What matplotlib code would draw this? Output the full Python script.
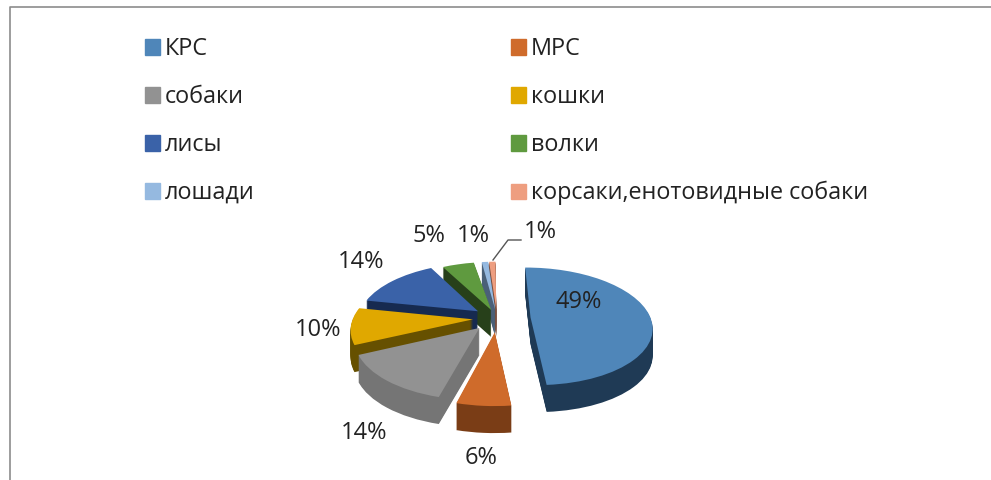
import matplotlib
matplotlib.use('Agg')
import matplotlib.pyplot as plt
from matplotlib.patches import Patch
from matplotlib.transforms import Transform
import numpy as np

plt.rcParams['font.family'] = ['Open Sans', 'DejaVu Sans']

# данные
names = ['КРС', 'МРС', 'собаки', 'кошки', 'лисы', 'волки', 'лошади', 'корсаки,енотовидные собаки']
shares = [49, 6, 14, 10, 14, 5, 1, 1]
labels = ['49%', '6%', '14%', '10%', '14%', '5%', '1%', '1%']
top_colors = ['#4F86B9', '#CF6B2B', '#929292', '#E0A800', '#3A62A8', '#5F9A3F', '#95B9E0', '#EE9E80']
side_colors = ['#1F3A55', '#7A3D16', '#757575', '#665000', '#162A50', '#27401A', '#4A6078', '#7A5040']
explode = [0.28, 0.24, 0.22, 0.2, 0.2, 0.15, 0.15, 0.15]
turn = [-2.5, 0, 0, 0, 0, 0, -2.5, -2.5]
label_xy = [(555, 302), (465, 458), (341, 433), (295, 330), (338, 262), (412, 236), (457, 236), (524, 232)]
# порядок отрисовки: задние секторы раньше
draw_order = [7, 6, 5, 4, 3, 0, 2, 1]

cx, cy = 497, 318
rx, ry = 120, 57.6
p = 0.153
depth = 27


class Tilt(Transform):
    # круг -> наклонный эллипс с перспективой, в пикселях картинки
    input_dims = 2
    output_dims = 2

    def __init__(self, dy, deg):
        super().__init__()
        self.dy = dy
        self.a = np.radians(deg)

    def transform_non_affine(self, xy):
        xy = np.asarray(xy)
        u = xy[:, 0] * np.cos(self.a) - xy[:, 1] * np.sin(self.a)
        v = xy[:, 0] * np.sin(self.a) + xy[:, 1] * np.cos(self.a)
        w = 1 + p * v
        return np.column_stack([cx + rx * u / w, cy - ry * v / w + self.dy])


fig = plt.figure(figsize=(9.91, 4.8), dpi=100)
ax = fig.add_axes([0, 0, 1, 1])

for d in range(depth, -1, -1):
    cols = top_colors if d == 0 else side_colors
    wedges, _ = ax.pie(shares, explode=explode, colors=cols, startangle=93, counterclock=False)
    for n, w in enumerate(wedges):
        w.set_transform(Tilt(d, turn[n]) + ax.transData)
        w.set_zorder(2 + draw_order.index(n) + (depth - d) / 100)
        w.set_linewidth(0)

ax.set_aspect('auto')
ax.set_xlim(0, 991)
ax.set_ylim(480, 0)
ax.axis('off')

# рамка
ax.plot([9.5, 9.5, 991], [480, 6.5, 6.5], color='#8C8C8C', lw=1.2)

for lab, (x, y) in zip(labels, label_xy):
    ax.text(x, y, lab, fontsize=17, color='#222222', ha='left', va='center', zorder=20)
# выноска для последней подписи
ax.plot([493, 508, 521], [260, 240, 240], color='#555555', lw=1, zorder=20)

order = [0, 2, 4, 6, 1, 3, 5, 7]
handles = [Patch(color=top_colors[i], label=names[i]) for i in order]
ax.legend(handles=handles, ncols=2, loc='upper left', bbox_to_anchor=(145 / 991, 1 - 37 / 480),
          bbox_transform=fig.transFigure, frameon=False, fontsize=16.8, labelcolor='#222222',
          handlelength=0.64, handleheight=0.64, handletextpad=0.2, labelspacing=1.03,
          columnspacing=11, borderpad=0, borderaxespad=0)

fig.savefig('out.png', dpi=100)
